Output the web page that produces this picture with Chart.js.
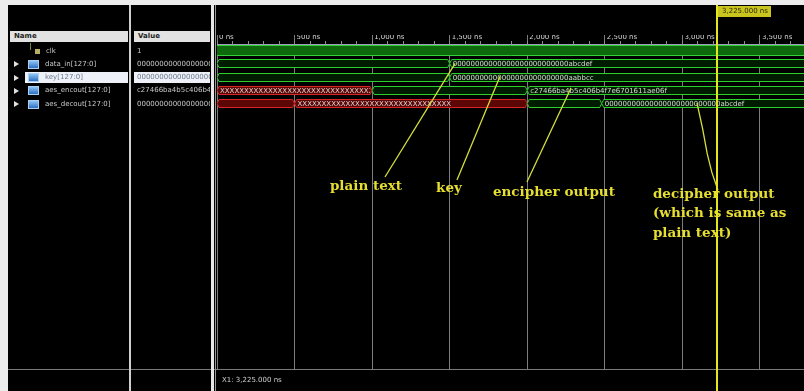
<!DOCTYPE html>
<html>
<head>
<meta charset="utf-8">
<script src="https://cdn.jsdelivr.net/npm/chart.js@4.4.1/dist/chart.umd.min.js"></script>
<style>
  body { margin: 0; background: #000; width: 804px; height: 391px; overflow: hidden; position: relative; font-family: "DejaVu Sans", sans-serif; }
  #wave { position: absolute; left: 0; top: 0; }
  .abs { position: absolute; }
  .hdr { background: #e2e2e2; color: #222; font-weight: bold; font-size: 7px; line-height: 11px; padding-left: 4px; box-sizing: border-box; height: 11px; top: 31px; }
  .txt { font-size: 7px; color: #c8c8c8; white-space: nowrap; overflow: hidden; line-height: 11px; }
  .sel { background: #eef2f8; color: #6a7a90; }
  .tri { width: 0; height: 0; border-left: 5px solid #e0e0e0; border-top: 3px solid transparent; border-bottom: 3px solid transparent; }
  .bus { width: 9px; height: 7px; background: linear-gradient(#8cc4f4, #2f6fc0); border: 1px solid #a8d0f4; }
  .clkic { width: 5px; height: 5px; background: #b8b060; }
</style>
</head>
<body>
<canvas id="wave" width="804" height="391"></canvas>
<div id="panels"></div>
<script>
// signals shown in the name / value columns
const signalNames = ['clk', 'data_in[127:0]', 'key[127:0]', 'aes_encout[127:0]', 'aes_decout[127:0]'];
const signalValues = ['1', '00000000000000000000000000abcdef', '00000000000000000000000000aabbcc',
                      'c27466ba4b5c406b4f7e6701611ae06f', '00000000000000000000000000abcdef'];

// time axis (ns)
const timeMax = 3784;
const majorTicks = [0, 500, 1000, 1500, 2000, 2500, 3000, 3500];
const minorStep = 100;
const cursorTime = 3225;

// waveforms: change times (ns), value text, state ('x' = unknown, 'v' = valid)
const clkActive = [0, 3784];
const dataInTimes = [0, 1500];
const dataInText = ['', '00000000000000000000000000abcdef'];
const dataInState = ['v', 'v'];
const keyTimes = [0, 1500];
const keyText = ['', '00000000000000000000000000aabbcc'];
const keyState = ['v', 'v'];
const encoutTimes = [0, 1000, 2000];
const encoutText = ['XXXXXXXXXXXXXXXXXXXXXXXXXXXXXXXX', '', 'c27466ba4b5c406b4f7e6701611ae06f'];
const encoutState = ['x', 'v', 'v'];
const decoutTimes = [0, 500, 2000, 2480];
const decoutText = ['', 'XXXXXXXXXXXXXXXXXXXXXXXXXXXXXXXX', '', '00000000000000000000000000abcdef'];
const decoutState = ['x', 'x', 'v', 'v'];

// annotations (time ns, row units)
const noteText = ['plain text', 'key', 'encipher output', 'decipher output', '(which is same as', 'plain text)'];
const noteAt = [[728, 10.23], [1412, 10.38], [1779, 10.75], [2810, 10.9], [2810, 12.26], [2810, 13.76]];
const pointerPlain = [[1083, 9.55], [1535, 1.0]];
const pointerKey = [[1547, 9.77], [1824, 2.0]];
const pointerEnc = [[1998, 9.92], [2282, 2.86]];
const pointerDec = [[3229, 10.53], [3190, 9.2], [3160, 7.8], [3130, 5.9], [3094, 3.98]];

// ---- left panels (name / value columns) ----
const panels = document.getElementById('panels');
function add(cls, style, text) {
    const d = document.createElement('div');
    d.className = 'abs ' + cls;
    d.setAttribute('style', style);
    if (text !== undefined) d.textContent = text;
    panels.appendChild(d);
    return d;
}
add('', 'left:0;top:0;width:804px;height:5px;background:#ececec');
add('', 'left:0;top:0;width:8px;height:391px;background:#ececec');
add('', 'left:129px;top:5px;width:2px;height:386px;background:#cfcfcf');
add('', 'left:211px;top:5px;width:3px;height:386px;background:#e8e8e8');
add('', 'left:215px;top:5px;width:1px;height:386px;background:#9a9a9a');
add('hdr', 'left:10px;width:118px', 'Name');
add('hdr', 'left:134px;width:76px', 'Value');

const rowTop = 44.5, rowH = 13.3;
signalNames.forEach((name, i) => {
    const top = rowTop + i * rowH;
    const selected = i === 2;
    if (selected) {
        add('sel', `left:25px;top:${top + 1}px;width:103px;height:11px`);
        add('sel', `left:134px;top:${top + 1}px;width:76px;height:11px`);
    }
    if (i === 0) {
        add('', `left:30px;top:${top - 2}px;width:1px;height:7px;background:#6a8a3a`);
        add('clkic', `left:35px;top:${top + 4}px`);
    } else {
        add('tri', `left:14px;top:${top + 3.5}px`);
        add('bus', `left:28px;top:${top + 2}px`);
    }
    add('txt' + (selected ? ' sel' : ''), `left:${i === 0 ? 46 : 45}px;top:${top + 1}px;width:${selected ? 80 : 82}px`, name);
    add('txt' + (selected ? ' sel' : ''), `left:137px;top:${top + 1}px;width:73px`, signalValues[i]);
});

// ---- waveform drawing through the chart scales ----
function drawBus(ctx, xs, ys, row, times, texts, states) {
    const yc = Math.round(ys.getPixelForValue(row)) + 0.5;
    const h = 4, s = 2;
    times.forEach((t, i) => {
        const last = i + 1 >= times.length;
        const t1 = last ? timeMax : times[i + 1];
        const x0 = xs.getPixelForValue(t), x1 = xs.getPixelForValue(t1);
        const bad = states[i] === 'x';
        ctx.beginPath();
        ctx.moveTo(x0, yc);
        ctx.lineTo(x0 + s, yc - h);
        ctx.lineTo(last ? x1 + 5 : x1 - s, yc - h);
        if (!last) ctx.lineTo(x1, yc);
        ctx.lineTo(last ? x1 + 5 : x1 - s, yc + h);
        ctx.lineTo(x0 + s, yc + h);
        ctx.closePath();
        ctx.fillStyle = bad ? '#5c0606' : '#001c00';
        ctx.fill();
        ctx.strokeStyle = bad ? '#d82424' : '#2ccf2c';
        ctx.lineWidth = 1;
        ctx.stroke();
        if (texts[i]) {
            ctx.save();
            ctx.beginPath();
            ctx.rect(x0 + s, yc - h, x1 - x0 - 2 * s, 2 * h);
            ctx.clip();
            ctx.fillStyle = '#dadada';
            ctx.font = '7px "DejaVu Sans"';
            ctx.textAlign = 'left';
            ctx.textBaseline = 'middle';
            ctx.fillText(texts[i], x0 + s + 1, yc + 0.5);
            ctx.restore();
        }
    });
}

const wavePlugin = {
    id: 'wave',
    beforeDatasetsDraw(chart) {
        const { ctx, chartArea: a, scales: { x, y } } = chart;
        ctx.save();
        ctx.beginPath();
        ctx.rect(a.left, a.top, a.right - a.left, a.bottom - a.top);
        ctx.clip();
        // clock: toggles too fast to resolve, shown as a solid band
        const yc = Math.round(y.getPixelForValue(0)) + 0.5;
        const cx0 = x.getPixelForValue(clkActive[0]), cx1 = x.getPixelForValue(clkActive[1]);
        ctx.fillStyle = '#0c6a0c';
        ctx.fillRect(cx0, yc - 5, cx1 - cx0, 10);
        ctx.strokeStyle = '#38d038';
        ctx.lineWidth = 1;
        ctx.beginPath();
        ctx.moveTo(cx0, yc - 5); ctx.lineTo(cx1, yc - 5);
        ctx.moveTo(cx0, yc + 5); ctx.lineTo(cx1, yc + 5);
        ctx.stroke();
        drawBus(ctx, x, y, 1, dataInTimes, dataInText, dataInState);
        drawBus(ctx, x, y, 2, keyTimes, keyText, keyState);
        drawBus(ctx, x, y, 3, encoutTimes, encoutText, encoutState);
        drawBus(ctx, x, y, 4, decoutTimes, decoutText, decoutState);
        ctx.restore();
    },
    afterDatasetsDraw(chart) {
        const { ctx, chartArea: a, scales: { x, y } } = chart;
        ctx.save();
        // annotation labels
        ctx.fillStyle = '#e6de30';
        ctx.font = 'bold 13.5px "DejaVu Serif"';
        ctx.textAlign = 'left';
        ctx.textBaseline = 'middle';
        noteText.forEach((t, i) => {
            ctx.fillText(t, x.getPixelForValue(noteAt[i][0]), y.getPixelForValue(noteAt[i][1]));
        });
        // bottom separator line across the window
        ctx.strokeStyle = '#7a7a7a';
        ctx.lineWidth = 1;
        ctx.beginPath();
        ctx.moveTo(8, a.bottom + 0.5);
        ctx.lineTo(chart.width, a.bottom + 0.5);
        ctx.stroke();
        // cursor
        const cx = Math.round(x.getPixelForValue(cursorTime));
        ctx.strokeStyle = '#e6e61e';
        ctx.lineWidth = 2;
        ctx.beginPath();
        ctx.moveTo(cx, 5);
        ctx.lineTo(cx, chart.height);
        ctx.stroke();
        const label = cursorTime.toLocaleString('en-US', { minimumFractionDigits: 3 }) + ' ns';
        ctx.font = '7px "DejaVu Sans"';
        ctx.fillStyle = '#c9c41e';
        ctx.fillRect(cx + 1, 6, 53, 11);
        ctx.fillStyle = '#2a2a00';
        ctx.fillText(label, cx + 5, 11.5);
        ctx.fillStyle = '#cfcfcf';
        ctx.fillText('X1: ' + label, a.left + 5, a.bottom + 11);
        ctx.restore();
    }
};

function pts(arr) { return arr.map(p => ({ x: p[0], y: p[1] })); }
const pointerStyle = { showLine: true, pointRadius: 0, borderColor: '#d6e03a', borderWidth: 1.3, fill: false, tension: 0 };

new Chart(document.getElementById('wave'), {
    type: 'scatter',
    data: {
        datasets: [
            { ...pointerStyle, data: pts(pointerPlain) },
            { ...pointerStyle, data: pts(pointerKey) },
            { ...pointerStyle, data: pts(pointerEnc) },
            { ...pointerStyle, data: pts(pointerDec) }
        ]
    },
    options: {
        responsive: false,
        animation: false,
        devicePixelRatio: 1,
        layout: { padding: { left: 217, top: 35, right: 0, bottom: 22 } },
        plugins: { legend: { display: false }, tooltip: { enabled: false } },
        scales: {
            x: {
                type: 'linear', position: 'top', min: 0, max: timeMax, weight: 2,
                afterBuildTicks: s => { s.ticks = majorTicks.map(v => ({ value: v })); },
                afterFit: s => { s.height = 9; },
                grid: { color: '#7c7c7c', tickLength: 9 },
                border: { color: '#9c9cbc' },
                ticks: {
                    autoSkip: false, maxRotation: 0,
                    align: 'start', labelOffset: 2, padding: -6, color: '#d4d4d4',
                    font: { size: 7, family: 'DejaVu Sans' },
                    callback: v => v.toLocaleString('en-US') + ' ns'
                }
            },
            xMinor: {
                type: 'linear', position: 'top', min: 0, max: timeMax, weight: 1,
                afterBuildTicks: s => {
                    const t = [];
                    for (let v = 0; v <= timeMax; v += minorStep) t.push({ value: v });
                    s.ticks = t;
                },
                afterFit: s => { s.height = 0; },
                grid: { drawOnChartArea: false, tickLength: 3, color: '#8a8a9a' },
                border: { display: false },
                ticks: { autoSkip: false, display: false }
            },
            y: { type: 'linear', min: -0.45, max: 23.985, reverse: true, display: false }
        }
    },
    plugins: [wavePlugin]
});
</script>
</body>
</html>
